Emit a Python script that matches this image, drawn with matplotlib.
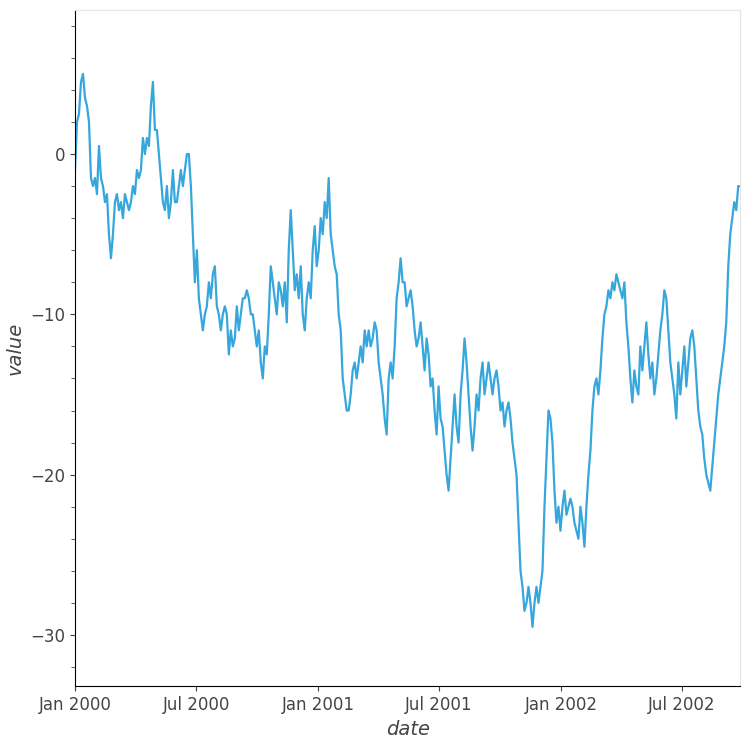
import numpy as np
import pandas as pd
import matplotlib
matplotlib.use("Agg")
import matplotlib.pyplot as plt
import matplotlib.dates as mdates
from matplotlib.ticker import MultipleLocator

# values, evenly spaced from 2000-01-01 to 2002-09-27
values = [-1, 2, 2.5, 4.5, 5, 3.5, 3, 2, -1.5, -2, -1.5, -2.5, 0.5, -1.5, -2, -3, -2.5, -5, -6.5, -5,
          -3, -2.5, -3.5, -3, -4, -2.5, -3, -3.5, -3, -2, -2.5, -1, -1.5, -1, 1, 0, 1, 0.5, 3, 4.5,
          1.5, 1.5, 0, -1.5, -3, -3.5, -2, -4, -3, -1, -3, -3, -2, -1, -2, -1, 0, 0, -2, -5,
          -8, -6, -9, -10, -11, -10, -9.5, -8, -9, -7.5, -7, -9.5, -10, -11, -10, -9.5, -10, -12.5, -11, -12,
          -11.5, -9.5, -11, -10, -9, -9, -8.5, -9, -10, -10, -11, -12, -11, -13, -14, -12, -12.5, -10, -7, -8,
          -9, -10, -8, -8.5, -9.5, -8, -10.5, -6, -3.5, -6, -8.5, -7.5, -9, -7, -10, -11, -9, -8, -9, -6,
          -4.5, -7, -6, -4, -5, -3, -4, -1.5, -5, -6, -7, -7.5, -10, -11, -14, -15, -16, -16, -15, -13.5,
          -13, -14, -13, -12, -13, -11, -12, -11, -12, -11.5, -10.5, -11, -13, -14, -15, -16.5, -17.5, -14, -13, -14,
          -12, -9, -8, -6.5, -8, -8, -9.5, -9, -8.5, -9.5, -11, -12, -11.5, -10.5, -12, -13.5, -11.5, -12.5, -14.5, -14,
          -16, -17.5, -14.5, -16.5, -17, -18.5, -20, -21, -19, -17, -15, -17, -18, -15, -13.5, -11.5, -13, -15, -17, -18.5,
          -17, -15, -16, -14, -13, -15, -14, -13, -14, -15, -14, -13.5, -14.5, -16, -15.5, -17, -16, -15.5, -16.5, -18,
          -19, -20, -23, -26, -27, -28.5, -28, -27, -28, -29.5, -28, -27, -28, -27, -26, -22, -19, -16, -16.5, -18,
          -21, -23, -22, -23.5, -22, -21, -22.5, -22, -21.5, -22, -23, -23.5, -24, -22, -23, -24.5, -22, -20, -18.5, -16,
          -14.5, -14, -15, -13.5, -11.5, -10, -9.5, -8.5, -9, -8, -8.5, -7.5, -8, -8.5, -9, -8, -10.5, -12, -14, -15.5,
          -13.5, -14.5, -15, -12, -13.5, -12, -10.5, -12.5, -14, -13, -15, -14, -12.5, -11, -10, -8.5, -9, -11, -13, -14,
          -15, -16.5, -13, -15, -13.5, -12, -14.5, -13, -11.5, -11, -12, -14, -16, -17, -17.5, -19, -20, -20.5, -21, -19.5,
          -18, -16.5, -15, -14, -13, -12, -10.5, -7, -5, -4, -3, -3.5, -2, -2]
dates = pd.date_range("2000-01-01", "2002-09-27", periods=len(values))

grey = "#444444"
fig, ax = plt.subplots(figsize=(7.5, 7.5), dpi=100)
fig.subplots_adjust(left=0.1, right=0.987, top=0.987, bottom=0.085)
ax.plot(dates, values, color="#35a7dc", lw=1.6)

ax.set_xlim(dates[0], dates[-1])
ax.set_ylim(-33.2, 9)
ax.yaxis.set_major_locator(MultipleLocator(10))
ax.yaxis.set_minor_locator(MultipleLocator(2))
ax.xaxis.set_major_locator(mdates.MonthLocator(bymonth=[1, 7]))
ax.xaxis.set_major_formatter(mdates.DateFormatter("%b %Y"))
ax.tick_params(colors=grey, labelsize=12)
ax.tick_params(axis="y", which="minor", length=3, color=grey)
for s in ["top", "right"]:
    ax.spines[s].set_color("#e5e5e5")
ax.set_xlabel("date", fontsize=14, style="italic", color=grey)
ax.set_ylabel("value", fontsize=14, style="italic", color=grey)
ax.set_yticklabels([f"{int(t)}".replace("-", "\u2212") for t in ax.get_yticks()])
fig.savefig("out.png")
